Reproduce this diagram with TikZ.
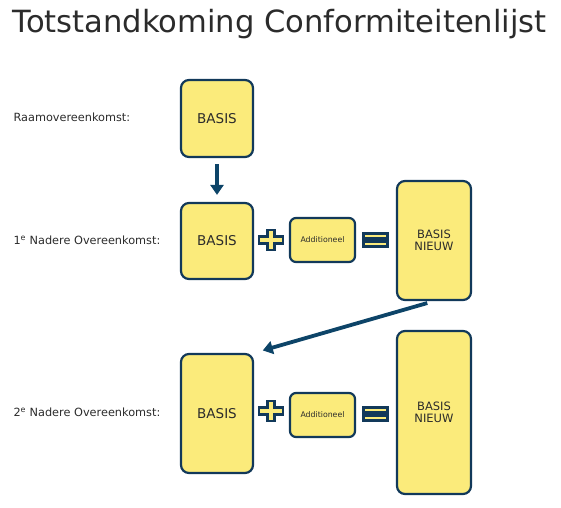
\documentclass[tikz,border=0pt]{standalone}
\usepackage{fontspec}
\setmainfont{DejaVu Sans}
\usetikzlibrary{positioning, arrows.meta}

\definecolor{boxfill}{HTML}{FBEB7B}
\definecolor{boxline}{HTML}{12395A}
\definecolor{arrowblue}{HTML}{0D4468}
\definecolor{txt}{HTML}{2B2B2B}

\begin{document}
\begin{tikzpicture}[
    x=1pt, y=-1pt,
    font=\fontsize{13.5}{15}\selectfont, text=txt,
    blok/.style={draw=boxline, line width=2.2pt, fill=boxfill,
                 rounded corners=8pt, align=center, inner sep=0pt},
    lbl/.style={anchor=west, font=\fontsize{11.3}{13}\selectfont},
    arr/.style={-{Triangle[length=10pt, width=13pt]}, line width=3.8pt,
                draw=arrowblue},
    teken/.style={draw=boxline, line width=2.2pt, fill=boxfill},
  ]

  \useasboundingbox (0,0) rectangle (561,507);

  % -- Title
  \node[anchor=west, font=\fontsize{30.6}{34}\selectfont] (title) at (9,24)
    {Totstandkoming Conformiteitenlijst};

  % -- Row 1: Raamovereenkomst
  \node[lbl] (lab1) at (10,117) {Raamovereenkomst:};
  \node[blok, minimum width=72pt, minimum height=77pt] (basis1) at (217,118.5)
    {BASIS};

  % -- Row 2: 1e Nadere Overeenkomst
  \node[lbl] (lab2) at (10,240) {1\textsuperscript{e} Nadere Overeenkomst:};
  \node[blok, minimum width=72pt, minimum height=76pt] (basis2) at (217,241)
    {BASIS};
  \coordinate (plus2) at (271,240);
  \node[blok, rounded corners=6pt, minimum width=65pt, minimum height=44pt,
        font=\fontsize{7.8}{9}\selectfont] (add2) at (322.5,240) {Additioneel};
  \coordinate (is2) at (375.5,240);
  \node[blok, minimum width=74pt, minimum height=119pt,
        font=\fontsize{11.5}{12.5}\selectfont] (nieuw2) at (434,240.5)
    {BASIS\\NIEUW};

  % -- Row 3: 2e Nadere Overeenkomst
  \node[lbl] (lab3) at (10,412) {2\textsuperscript{e} Nadere Overeenkomst:};
  \node[blok, minimum width=72pt, minimum height=119pt] (basis3) at (217,413.5)
    {BASIS};
  \coordinate (plus3) at (271,411);
  \node[blok, rounded corners=6pt, minimum width=65pt, minimum height=44pt,
        font=\fontsize{7.8}{9}\selectfont] (add3) at (322.5,415) {Additioneel};
  \coordinate (is3) at (375.5,414);
  \node[blok, minimum width=74pt, minimum height=163pt,
        font=\fontsize{11.5}{12.5}\selectfont] (nieuw3) at (434,412.5)
    {BASIS\\NIEUW};

  % -- Plus and equals signs
  \foreach \p in {plus2, plus3} {
    \draw[teken, shift={(\p)}]
      (-3.5,-10) -- (3.5,-10) -- (3.5,-3.5) -- (12,-3.5) -- (12,3.5)
      -- (3.5,3.5) -- (3.5,10) -- (-3.5,10) -- (-3.5,3.5) -- (-12,3.5)
      -- (-12,-3.5) -- (-3.5,-3.5) -- cycle;
  }
  \foreach \q in {is2, is3} {
    \draw[teken, shift={(\q)}] (-12,-6.5) rectangle (12,-1.5);
    \draw[teken, shift={(\q)}] (-12,1.5) rectangle (12,6.5);
  }

  % -- Arrows
  \draw[arr, shorten <=6pt, shorten >=7pt] (basis1) -- (basis2);
  \draw[arr, shorten <=7pt, shorten >=9pt] (nieuw2.south) -- (basis3.north east);

\end{tikzpicture}
\end{document}
